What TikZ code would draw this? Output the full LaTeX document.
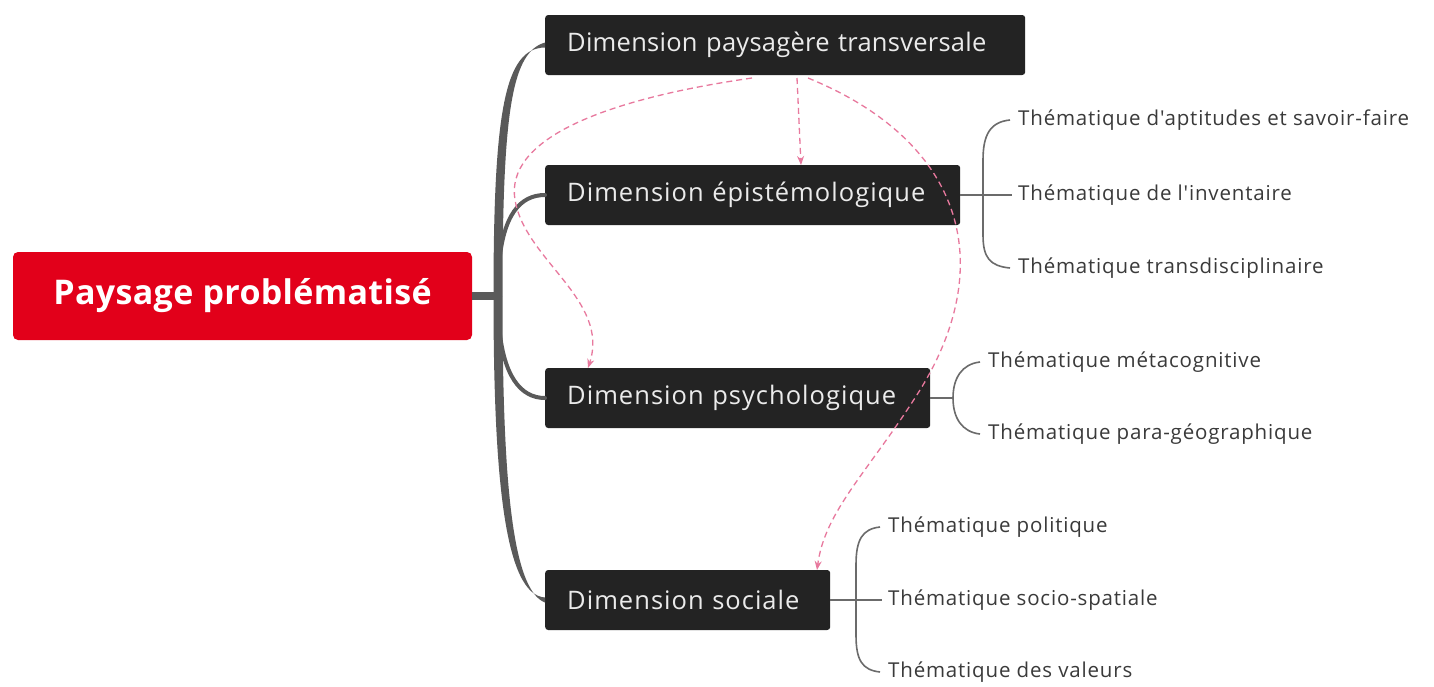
\documentclass[tikz,border=0pt]{standalone}
\usepackage{fontspec}
\setmainfont{Open Sans}
\usetikzlibrary{arrows.meta}
\definecolor{rootred}{HTML}{E2001A}
\definecolor{dimbox}{HTML}{232323}
\definecolor{trunk}{HTML}{5A5A5A}
\definecolor{thtext}{HTML}{3A3A3A}
\definecolor{pinkdash}{HTML}{E8799E}
\newfontfamily\dimfont[LetterSpace=4]{Open Sans}
\newfontfamily\dimfonttight[LetterSpace=1]{Open Sans}
\newfontfamily\thfont[LetterSpace=4]{Open Sans}
\newfontfamily\rootfont[LetterSpace=1]{Open Sans}
\tikzset{
  rootbox/.style={fill=rootred, text=white, rounded corners=5pt, minimum width=459pt, minimum height=88pt, inner sep=0pt, font=\rootfont\fontsize{34}{38}\selectfont\bfseries},
  dimnode/.style={fill=dimbox, text=white!92!black, rounded corners=3pt, minimum height=60pt, inner ysep=0pt, inner xsep=22pt, align=left, anchor=west, font=\dimfont\fontsize{25.5}{28}\selectfont},
  thnode/.style={text=thtext, anchor=west, inner sep=0pt, font=\thfont\fontsize{20.5}{24}\selectfont},
  subbranch/.style={draw=trunk, line width=4pt, line cap=round},
  brk/.style={draw=trunk!90, line width=1.6pt},
  rel/.style={draw=pinkdash, line width=1.3pt, dash pattern=on 6pt off 4pt, -{Stealth[length=9pt,width=7pt]}},
}
\begin{document}
\begin{tikzpicture}[x=1pt,y=-1pt]
\useasboundingbox (0,0) rectangle (1434,686);
\fill[white] (0,0) rectangle (1434,686);

% root
\node[rootbox] (root) at (242.5,296) {Paysage problématisé};

% dimensions
\node[dimnode, text width=436pt, font=\dimfonttight\fontsize{25.5}{28}\selectfont] (d1) at (545,45) {Dimension paysagère transversale};
\node[dimnode, text width=371pt] (d2) at (545,195) {Dimension épistémologique};
\node[dimnode, text width=341pt] (d3) at (545,398) {Dimension psychologique};
\node[dimnode, text width=241pt] (d4) at (545,600) {Dimension sociale};

% trunk
\coordinate (hub) at (498,296);
\draw[draw=trunk, line width=8pt] (root.east) -- (hub);
\fill[trunk] (493.5,296) .. controls (493.5,110) and (505,48) .. ([yshift=-2.5pt]d1.west)
  -- ([yshift=2.5pt]d1.west) .. controls (512,52) and (502.5,110) .. (502.5,296) -- cycle;
\fill[trunk] (493.5,296) .. controls (493.5,480) and (505,595) .. ([yshift=2.5pt]d4.west)
  -- ([yshift=-2.5pt]d4.west) .. controls (512,590) and (502.5,480) .. (502.5,296) -- cycle;
\draw[subbranch] (499,265) .. controls (503,215) and (520,195) .. (d2.west);
\draw[subbranch] (499,325) .. controls (503,375) and (520,398) .. (d3.west);

% thematics
\node[thnode] (t21) at (1018,120) {Thématique d'aptitudes et savoir-faire};
\node[thnode] (t22) at (1018,195) {Thématique de l'inventaire};
\node[thnode] (t23) at (1018,268) {Thématique transdisciplinaire};
\node[thnode] (t31) at (988,362) {Thématique métacognitive};
\node[thnode] (t32) at (988,434) {Thématique para-géographique};
\node[thnode] (t41) at (888,527) {Thématique politique};
\node[thnode] (t42) at (888,600) {Thématique socio-spatiale};
\node[thnode] (t43) at (888,672) {Thématique des valeurs};

% brackets
\draw[brk] (d2.east) -- ([xshift=-6pt]t22.west);
\draw[brk] ([xshift=-8pt]t21.west) .. controls (990,122) and (983,135) .. (983,160) -- (983,235) .. controls (983,258) and (990,266) .. ([xshift=-8pt]t23.west);
\draw[brk] (d3.east) -- (953,398);
\draw[brk] ([xshift=-8pt]t31.west) .. controls (962,364) and (953,378) .. (953,398) .. controls (953,418) and (962,432) .. ([xshift=-8pt]t32.west);
\draw[brk] (d4.east) -- ([xshift=-6pt]t42.west);
\draw[brk] ([xshift=-8pt]t41.west) .. controls (862,529) and (856,540) .. (856,565) -- (856,635) .. controls (856,660) and (862,670) .. ([xshift=-8pt]t43.west);

% relations
\coordinate (s2) at (797,78);
\coordinate (s3) at (752,78);
\coordinate (s4) at (808,78);
\coordinate (e2) at (801,165);
\draw[rel] (s2) -- (e2);
\draw[rel] (s3) .. controls (600,100) and (505,140) .. (515,200) .. controls (525,260) and (610,300) .. (588,368);
\draw[rel] (s4) .. controls (960,140) and (1000,260) .. (920,390) .. controls (870,470) and (825,510) .. (817,570);
\end{tikzpicture}
\end{document}
